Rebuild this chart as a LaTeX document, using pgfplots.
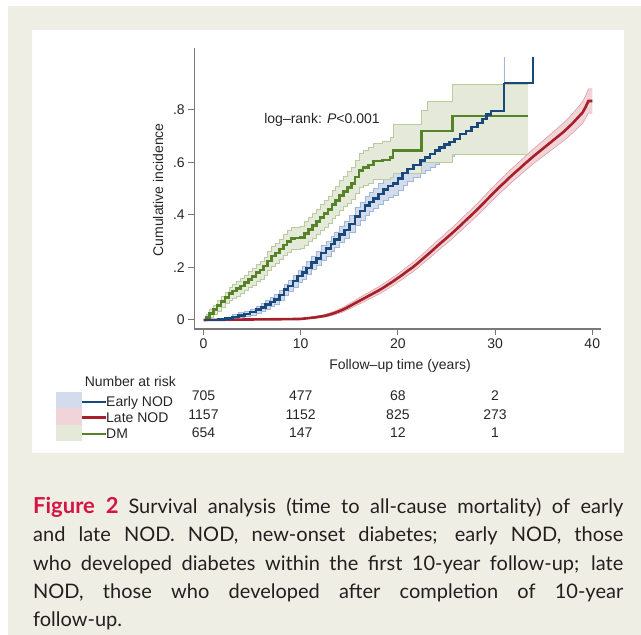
\documentclass[border=0pt]{standalone}
\usepackage{fontspec}
\setmainfont{Liberation Sans}
\newfontfamily\capfont{Lato}
\usepackage{pgfplots}
\usepackage{pgfplotstable}
\pgfplotsset{compat=1.18}
\usepgfplotslibrary{fillbetween}

\definecolor{beige}{RGB}{239,238,228}
\definecolor{cblue}{RGB}{26,72,122}
\definecolor{cred}{RGB}{166,32,44}
\definecolor{cgreen}{RGB}{86,130,40}
\definecolor{bblue}{RGB}{210,220,236}
\definecolor{eblue}{RGB}{160,184,216}
\definecolor{bred}{RGB}{240,212,215}
\definecolor{ered}{RGB}{218,150,158}
\definecolor{bgreen}{RGB}{228,233,218}
\definecolor{egreen}{RGB}{184,204,160}
\definecolor{axgray}{RGB}{120,120,120}
\definecolor{crimson}{RGB}{212,20,70}
\definecolor{captxt}{RGB}{35,31,32}

% DM
\pgfplotstableread{
t y lo hi
0 0 0 0
0.3 0.010 0.000 0.020
0.6 0.025 0.010 0.040
1.0 0.040 0.022 0.058
1.4 0.055 0.035 0.075
1.8 0.070 0.050 0.090
2.2 0.085 0.063 0.107
2.6 0.100 0.075 0.125
3.0 0.110 0.083 0.137
3.4 0.120 0.092 0.148
3.8 0.130 0.100 0.160
4.2 0.142 0.112 0.172
4.6 0.155 0.124 0.186
5.0 0.165 0.133 0.197
5.4 0.180 0.147 0.213
5.8 0.190 0.156 0.224
6.2 0.205 0.170 0.240
6.6 0.225 0.189 0.261
7.0 0.243 0.206 0.280
7.4 0.255 0.217 0.293
7.8 0.270 0.231 0.309
8.2 0.285 0.245 0.325
8.6 0.300 0.259 0.341
9.0 0.310 0.268 0.352
9.4 0.312 0.269 0.355
10.0 0.315 0.272 0.358
10.4 0.330 0.285 0.375
10.8 0.345 0.299 0.391
11.2 0.360 0.313 0.407
11.6 0.375 0.327 0.423
12.0 0.390 0.340 0.440
12.4 0.405 0.354 0.456
12.8 0.420 0.368 0.472
13.2 0.440 0.387 0.493
13.6 0.455 0.400 0.510
14.0 0.475 0.419 0.531
14.4 0.490 0.432 0.548
14.8 0.505 0.445 0.565
15.2 0.520 0.458 0.582
15.6 0.545 0.482 0.608
16.0 0.570 0.505 0.635
16.4 0.580 0.514 0.646
17.0 0.590 0.522 0.658
17.5 0.605 0.535 0.675
18.4 0.610 0.537 0.682
19.2 0.620 0.545 0.695
19.5 0.645 0.560 0.745
22.4 0.720 0.600 0.800
23.0 0.720 0.600 0.834
25.6 0.777 0.633 0.897
33.4 0.777 0.633 0.897
}\dm

% Early NOD
\pgfplotstableread{
t y lo hi
0 0 0 0
1.5 0.001 0.000 0.004
2.2 0.005 0.000 0.012
3.0 0.012 0.004 0.021
3.6 0.018 0.009 0.028
4.2 0.023 0.013 0.034
4.8 0.030 0.019 0.042
5.4 0.040 0.027 0.054
5.9 0.048 0.034 0.063
6.4 0.058 0.042 0.075
6.9 0.068 0.051 0.086
7.3 0.079 0.061 0.098
7.8 0.095 0.076 0.115
8.3 0.115 0.095 0.136
8.7 0.130 0.108 0.152
9.2 0.148 0.126 0.171
9.7 0.167 0.145 0.190
10.2 0.180 0.157 0.204
10.6 0.198 0.174 0.223
11.1 0.218 0.193 0.244
11.6 0.235 0.209 0.262
12.1 0.255 0.228 0.283
12.6 0.272 0.244 0.300
13.1 0.290 0.262 0.319
13.5 0.306 0.277 0.336
14.0 0.325 0.295 0.356
14.5 0.343 0.312 0.375
15.0 0.365 0.333 0.398
15.6 0.394 0.361 0.428
16.1 0.415 0.381 0.450
16.6 0.435 0.400 0.471
17.1 0.450 0.413 0.488
17.5 0.462 0.424 0.501
18.0 0.480 0.441 0.520
18.5 0.497 0.456 0.538
19.0 0.510 0.468 0.552
19.5 0.520 0.477 0.563
20.0 0.540 0.496 0.584
20.5 0.560 0.515 0.605
21.0 0.575 0.528 0.622
21.6 0.590 0.542 0.638
22.3 0.608 0.559 0.657
22.8 0.620 0.570 0.670
23.3 0.633 0.582 0.684
23.8 0.645 0.593 0.697
24.3 0.658 0.604 0.710
24.8 0.668 0.613 0.722
25.3 0.678 0.622 0.733
25.8 0.690 0.633 0.746
26.4 0.708 0.648 0.766
27.0 0.720 0.658 0.780
27.6 0.735 0.670 0.797
28.2 0.750 0.684 0.814
28.7 0.765 0.697 0.831
29.1 0.783 0.713 0.850
29.6 0.796 0.725 0.865
30.9 0.903 0.725 1.000
}\early

\pgfplotstableread{
t y
30.9 0.903
33.9 1.000
}\earlytail

% Late NOD
\pgfplotstableread{
t y lo hi
0 0 0 0
2 0.001 0.000 0.002
5 0.002 0.001 0.004
8 0.003 0.001 0.005
10 0.004 0.002 0.007
10.5 0.006 0.003 0.009
11 0.008 0.005 0.011
11.5 0.010 0.006 0.014
12 0.013 0.009 0.017
12.5 0.016 0.011 0.021
13 0.021 0.015 0.027
13.5 0.027 0.020 0.034
14 0.034 0.026 0.042
14.5 0.042 0.033 0.051
15 0.052 0.042 0.062
15.5 0.062 0.051 0.073
16 0.072 0.060 0.084
16.5 0.082 0.069 0.095
17 0.092 0.079 0.105
17.5 0.102 0.088 0.116
18 0.112 0.098 0.126
18.5 0.123 0.108 0.138
19 0.135 0.120 0.150
19.5 0.147 0.131 0.163
20 0.160 0.144 0.176
20.5 0.173 0.156 0.190
21 0.187 0.170 0.204
21.5 0.200 0.182 0.218
22 0.215 0.197 0.233
22.5 0.231 0.212 0.250
23 0.247 0.228 0.266
23.5 0.263 0.243 0.283
24 0.280 0.260 0.300
24.5 0.296 0.276 0.316
25 0.312 0.291 0.333
25.5 0.328 0.307 0.349
26 0.345 0.324 0.366
26.5 0.362 0.340 0.384
27 0.380 0.358 0.402
27.5 0.397 0.375 0.419
28 0.415 0.392 0.438
28.5 0.433 0.410 0.456
29 0.452 0.428 0.476
29.5 0.471 0.447 0.495
30 0.490 0.466 0.514
30.5 0.508 0.483 0.533
31 0.525 0.500 0.550
31.5 0.543 0.517 0.569
32 0.560 0.534 0.586
32.5 0.576 0.549 0.603
33 0.593 0.566 0.620
33.5 0.609 0.581 0.637
34 0.625 0.597 0.653
34.5 0.640 0.611 0.669
35 0.655 0.625 0.685
35.5 0.670 0.639 0.701
36 0.685 0.653 0.717
36.5 0.700 0.667 0.733
37 0.715 0.681 0.749
37.5 0.732 0.697 0.767
38 0.750 0.713 0.787
38.5 0.770 0.731 0.809
39 0.790 0.749 0.831
39.3 0.810 0.767 0.853
39.6 0.834 0.788 0.880
40 0.834 0.788 0.880
}\late

\begin{document}
\begin{tikzpicture}[x=1pt,y=1pt]
\path (0,0) rectangle (641,635);
% beige frame around the white panel (panel itself left unpainted)
\fill[beige, even odd rule] (8,0) rectangle (641,629) (32,182) rectangle (624,605);

\begin{axis}[
  at={(194.3pt,306pt)}, anchor=south west,
  scale only axis, width=406.7pt, height=281pt,
  xmin=-0.95, xmax=40.9, ymin=-0.0343, ymax=1.036,
  axis x line*=bottom, axis y line*=left,
  axis line style={axgray, line width=1.2pt, -},
  xtick={0,10,20,30,40}, xticklabels={0,10,20,30,40},
  ytick={0,0.2,0.4,0.6,0.8}, yticklabels={0,.2,.4,.6,.8},
  tick align=outside, major tick length=6pt,
  tick style={axgray, line width=1pt},
  tick label style={font=\fontsize{14}{16}\selectfont, text=black!85},
  xlabel={Follow--up time (years)},
  ylabel={Cumulative incidence},
  label style={font=\fontsize{14}{16}\selectfont, text=black!85},
  xlabel style={at={(rel axis cs:0.506,-0.132)}, anchor=center},
  ylabel style={at={(rel axis cs:-0.089,0.495)}, anchor=center},
]
% Early NOD band
\addplot[name path=bU, draw=none, const plot] table[x=t,y=hi] {\early};
\addplot[name path=bL, draw=none, const plot] table[x=t,y=lo] {\early};
\addplot[fill=bblue, draw=none] fill between[of=bU and bL];
\addplot[draw=eblue, line width=0.5pt, const plot, on layer=pre main] table[x=t,y=hi] {\early};
\addplot[draw=eblue, line width=0.5pt, const plot, on layer=pre main] table[x=t,y=lo] {\early};
% Late NOD band
\addplot[name path=rU, draw=none] table[x=t,y=hi] {\late};
\addplot[name path=rL, draw=none] table[x=t,y=lo] {\late};
\addplot[fill=bred, draw=none] fill between[of=rU and rL];
\addplot[draw=ered, line width=0.5pt] table[x=t,y=hi] {\late};
\addplot[draw=ered, line width=0.5pt] table[x=t,y=lo] {\late};
% DM band
\addplot[name path=gU, draw=none, const plot] table[x=t,y=hi] {\dm};
\addplot[name path=gL, draw=none, const plot] table[x=t,y=lo] {\dm};
\addplot[fill=bgreen, draw=none] fill between[of=gU and gL];
\addplot[draw=egreen, line width=0.5pt, const plot] table[x=t,y=hi] {\dm};
\addplot[draw=egreen, line width=0.5pt, const plot] table[x=t,y=lo] {\dm};
\addplot[draw=eblue, line width=0.6pt] coordinates {(30.9,0.903) (30.9,1.0)};
% lines
\addplot[cgreen, line width=2.6pt, const plot] table[x=t,y=y] {\dm};
\addplot[cred, line width=2.6pt] table[x=t,y=y] {\late};
\addplot[cblue, line width=2.6pt, const plot] table[x=t,y=y] {\early};
\addplot[cblue, line width=2.6pt, const plot] table[x=t,y=y] {\earlytail};
\node[font=\fontsize{14}{16}\selectfont, text=black!85] at (axis cs:12.19,0.762) {log--rank: \textit{P}<0.001};
\end{axis}

% number at risk table
\begin{scope}[every node/.style={font=\fontsize{14}{16}\selectfont, text=black!85, inner sep=0pt}]
\node[anchor=base west] at (84.6,248.6) {Number at risk};
\fill[bblue] (56,226.7) rectangle (82,243);
\fill[bred] (56,210.3) rectangle (82,226.7);
\fill[bgreen] (56,194) rectangle (82,210.3);
\draw[cblue, line width=2.6pt] (82,233) -- (106,233);
\draw[cred, line width=2.6pt] (82,217.5) -- (106,217.5);
\draw[cgreen, line width=2.6pt] (82,201) -- (106,201);
\node[anchor=base west] at (106,228) {Early NOD};
\node[anchor=base west] at (106,212.5) {Late NOD};
\node[anchor=base west] at (106,196) {DM};
\foreach \x/\a/\b/\c in {203.5/705/1157/654, 300.7/477/1152/147, 397.9/68/825/12, 495.1/2/273/1}{
  \node[anchor=base] at (\x,234) {\a};
  \node[anchor=base] at (\x,215.5) {\b};
  \node[anchor=base] at (\x,197.5) {\c};
}
\end{scope}

% caption
\node[anchor=base west, inner sep=0pt] at (33,138) {%
\begin{minipage}[t]{590pt}
\capfont\fontsize{20}{28.4}\selectfont\color{captxt}%
\hyphenpenalty=10000 \exhyphenpenalty=10000 \parindent=0pt%
{\bfseries\fontsize{22}{28.4}\selectfont\color{crimson}Figure 2}\enspace Survival analysis (time to all-cause mortality) of early\linebreak
and late NOD. NOD, new-onset diabetes; early NOD, those\linebreak
who developed diabetes within the first 10-year follow-up; late\linebreak
NOD, those who developed after completion of 10-year\linebreak
follow-up.
\end{minipage}};
\end{tikzpicture}
\end{document}
